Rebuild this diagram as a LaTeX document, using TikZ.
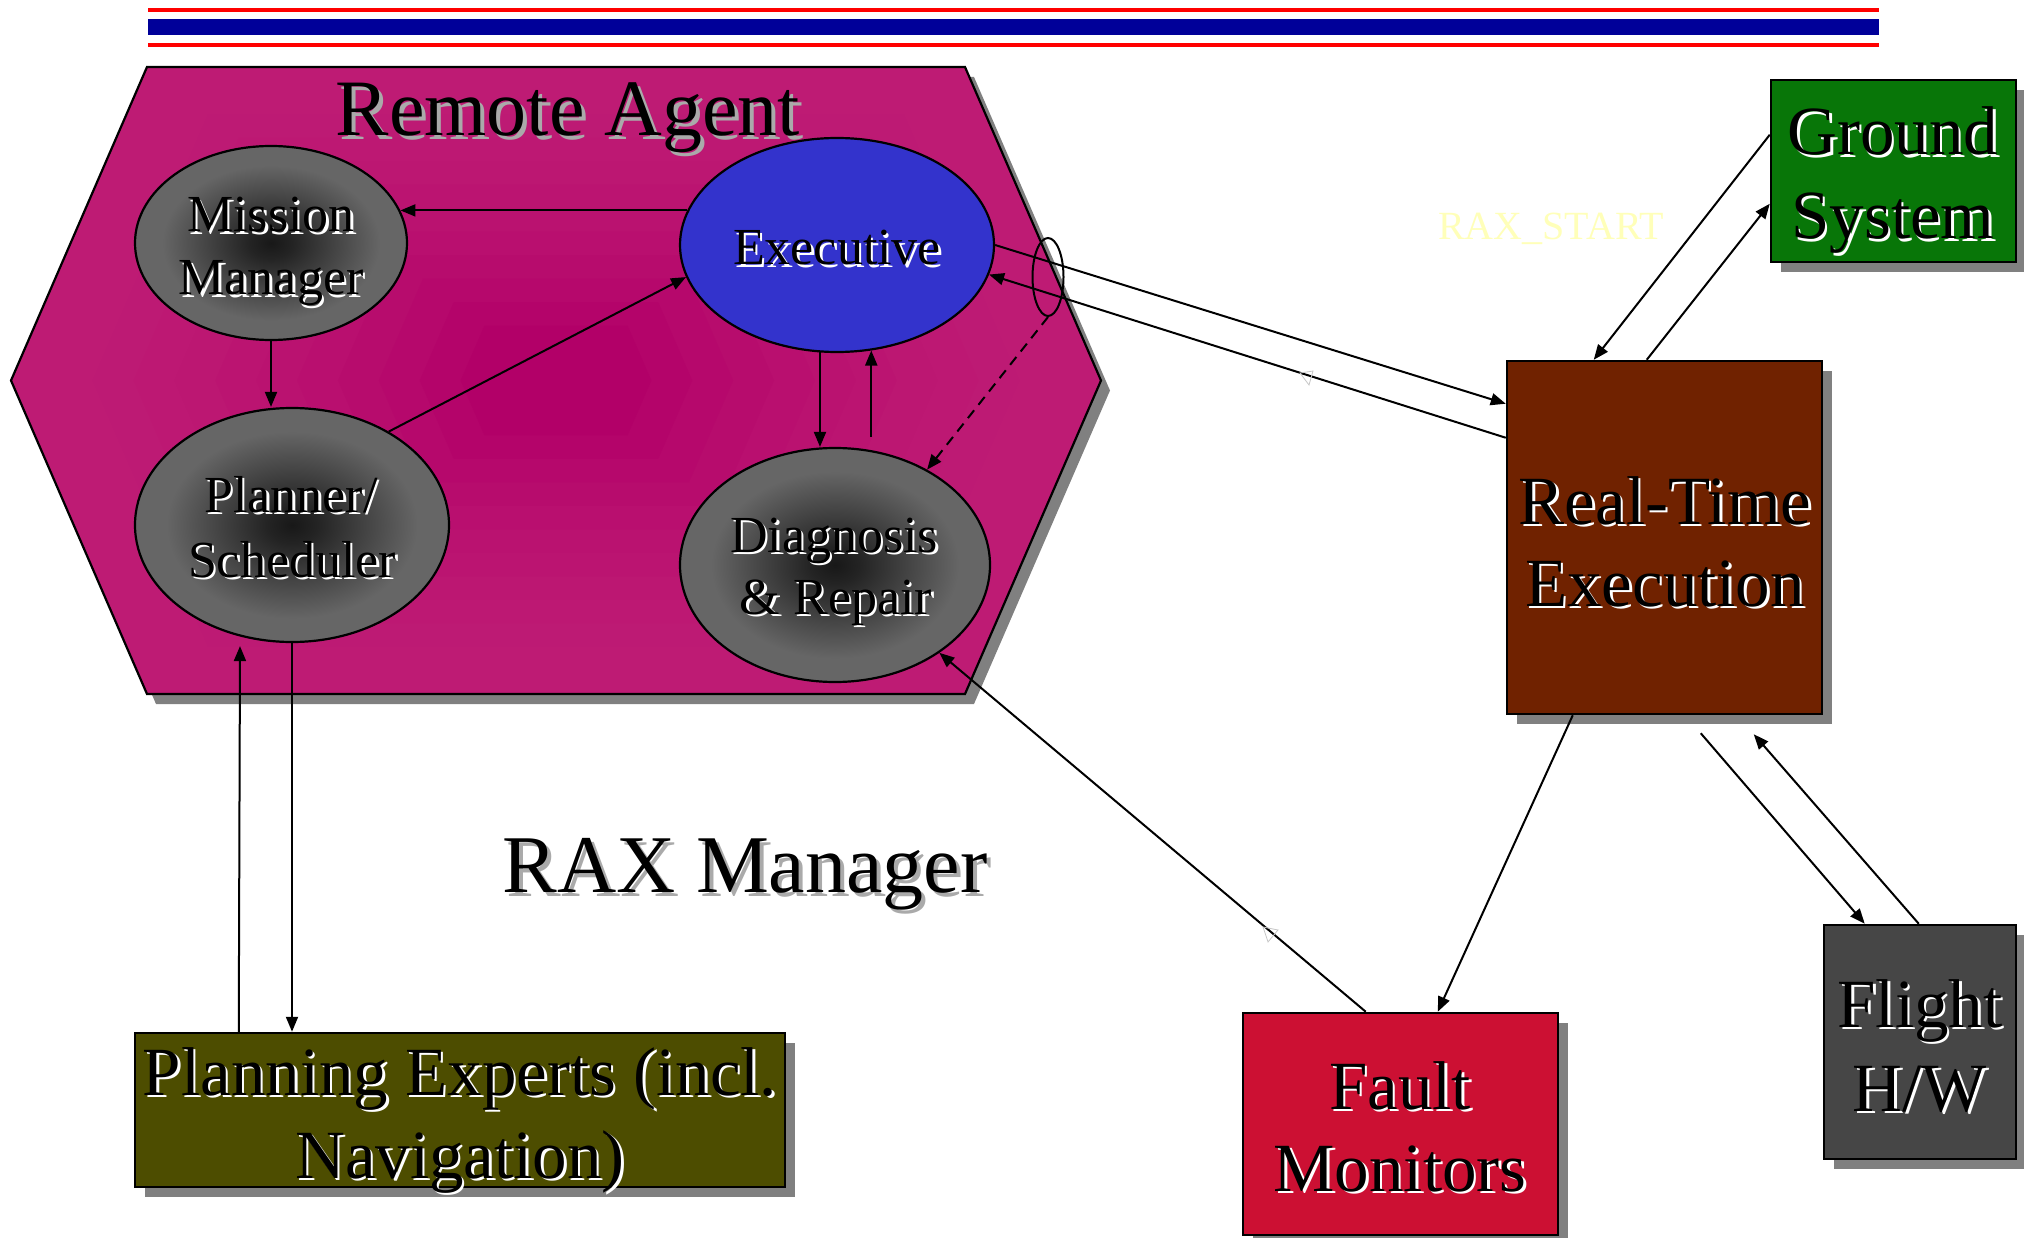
\documentclass[tikz,border=0pt]{standalone}
\usepackage{fontspec}
\setmainfont{Liberation Serif}
\usetikzlibrary{arrows.meta,shapes.geometric,calc,shadows}
\definecolor{hexout}{RGB}{190,27,116}
\definecolor{hexin}{RGB}{178,0,104}
\definecolor{shadowgray}{RGB}{128,128,128}
\definecolor{ballin}{RGB}{24,24,24}
\definecolor{ballout}{RGB}{102,102,102}
\definecolor{execblue}{RGB}{51,51,204}
\definecolor{groundgreen}{RGB}{8,118,8}
\definecolor{rtbrown}{RGB}{112,34,0}
\definecolor{faultred}{RGB}{204,16,51}
\definecolor{flightgray}{RGB}{70,70,70}
\definecolor{planolive}{RGB}{77,77,0}
\definecolor{linered}{RGB}{255,0,0}
\definecolor{lineblue}{RGB}{0,0,153}
\definecolor{raxyellow}{RGB}{255,255,185}
\definecolor{txtshadow}{RGB}{170,170,170}
\pgfdeclareradialshading{grayball}{\pgfpoint{0bp}{0bp}}{color(0bp)=(ballin); color(4bp)=(ballin!85!ballout); color(20bp)=(ballout); color(50bp)=(ballout)}

\newcommand\EmbText[4]{%
  \node[anchor=base, text=white, font=#3, inner sep=0pt] at ($(#2)+(2.5,2.5)$) {#4};
  \node[anchor=base, text=black, font=#3, inner sep=0pt] (#1) at (#2) {#4};}
\newcommand\ShText[4]{%
  \node[anchor=base, text=txtshadow, font=#3, inner sep=0pt] at ($(#2)+(4,4)$) {#4};
  \node[anchor=base, text=black, font=#3, inner sep=0pt] (#1) at (#2) {#4};}

\begin{document}
\begin{tikzpicture}[x=1pt,y=-1pt,
  ball/.style={ellipse, draw=black, line width=2.2pt, inner sep=0pt, shade, shading=grayball},
  execball/.style={ellipse, draw=black, line width=2.2pt, inner sep=0pt, fill=execblue},
  box/.style={rectangle, draw=black, line width=2.5pt, inner sep=0pt,
     drop shadow={shadow xshift=10pt, shadow yshift=-10pt, fill=shadowgray, opacity=1}},
  conn/.style={line width=2pt, -{Triangle[length=15pt,width=12pt]}},
]
\useasboundingbox (0,0) rectangle (2024,1238);

% top rules
\draw[linered, line width=4pt] (148,10) -- (1879,10);
\draw[lineblue, line width=16pt] (148,27.3) -- (1879,27.3);
\draw[linered, line width=4.6pt] (148,45) -- (1879,45);

% Remote Agent hexagon
\begin{scope}[shift={(556,380.5)}]
  \fill[shadowgray, shift={(9,10)}] (-545,0) -- (-409,-313.5) -- (409,-313.5) -- (545,0) -- (409,313.5) -- (-409,313.5) -- cycle;
  \foreach \i in {0,...,11}{
    \pgfmathsetmacro\s{1-\i*0.075}
    \pgfmathtruncatemacro\p{(\i/11)^1.8*100}
    \fill[hexin!\p!hexout, scale=\s] (-545,0) -- (-409,-313.5) -- (409,-313.5) -- (545,0) -- (409,313.5) -- (-409,313.5) -- cycle;
  }
  \draw[line width=2.2pt] (-545,0) -- (-409,-313.5) -- (409,-313.5) -- (545,0) -- (409,313.5) -- (-409,313.5) -- cycle;
\end{scope}

% ellipses
\node[ball, minimum width=272pt, minimum height=194pt] (mm) at (271,243) {};
\node[execball, minimum width=314pt, minimum height=214pt] (exec) at (837,245) {};
\node[ball, minimum width=314pt, minimum height=234pt] (plan) at (292,525) {};
\node[ball, minimum width=310pt, minimum height=234pt] (diag) at (835,565) {};
\node[ellipse, draw=black, line width=2pt, inner sep=0pt, minimum width=31pt, minimum height=78pt] (sel) at (1048,277) {};

% boxes
\node[box, fill=groundgreen, minimum width=245pt, minimum height=182pt] (gs) at (1893.5,171) {};
\node[box, fill=rtbrown, minimum width=315pt, minimum height=353pt] (rt) at (1664.5,537.5) {};
\node[box, fill=faultred, minimum width=315pt, minimum height=222pt] (fm) at (1400.5,1124) {};
\node[box, fill=flightgray, minimum width=192pt, minimum height=234pt] (fh) at (1920,1042) {};
\node[box, fill=planolive, minimum width=650pt, minimum height=154pt] (pe) at (460,1110) {};

% texts
\ShText{ratitle}{568,136}{\fontsize{80}{96}\selectfont}{Remote Agent}
\ShText{raxm}{745,892}{\fontsize{82}{98}\selectfont}{RAX Manager}
\EmbText{mmta}{271,232}{\fontsize{52}{62}\selectfont}{Mission}
\EmbText{mmtb}{271,295}{\fontsize{52}{62}\selectfont}{Manager}
\EmbText{ext}{837,265}{\fontsize{52}{62}\selectfont}{Executive}
\EmbText{psta}{291,512}{\fontsize{52}{62}\selectfont}{Planner/}
\EmbText{pstb}{292,577}{\fontsize{52}{62}\selectfont}{Scheduler}
\EmbText{drta}{834,552}{\fontsize{52}{62}\selectfont}{Diagnosis}
\EmbText{drtb}{836,614}{\fontsize{52}{62}\selectfont}{\& Repair}
\EmbText{gsta}{1893,155}{\fontsize{69}{83}\selectfont}{Ground}
\EmbText{gstb}{1893,239}{\fontsize{69}{83}\selectfont}{System}
\EmbText{rtta}{1665,524}{\fontsize{69}{83}\selectfont}{Real-Time}
\EmbText{rttb}{1665,606}{\fontsize{69}{83}\selectfont}{Execution}
\EmbText{fmta}{1400,1109}{\fontsize{69}{83}\selectfont}{Fault}
\EmbText{fmtb}{1400,1191}{\fontsize{69}{83}\selectfont}{Monitors}
\EmbText{fhta}{1920,1027}{\fontsize{69}{83}\selectfont}{Flight}
\EmbText{fhtb}{1920,1111}{\fontsize{69}{83}\selectfont}{H/W}
\EmbText{peta}{460,1095}{\fontsize{69}{83}\selectfont}{Planning Experts (incl.}
\EmbText{petb}{460,1178}{\fontsize{69}{83}\selectfont}{Navigation)}
\node[anchor=base, text=raxyellow, font=\fontsize{40}{48}\selectfont, inner sep=0pt] (raxstart) at (1551,240) {RAX\_START};

% connectors inside the agent
\draw[conn] (exec.167) -- (mm.14 |- exec.167);
\draw[conn] (mm.south) -- (mm.south |- plan.north);
\draw[conn] (plan.44) -- (exec.192);
\draw[conn] (exec.261) -- (exec.261 |- diag.north);
\draw[conn] ($(exec.288 |- diag.north)+(0,-10)$) -- (exec.288);
\draw[conn, dash pattern=on 10pt off 7pt] (sel.south) -- (diag.46);

% executive <-> real-time execution
\draw[conn] (exec.east) -- ($(rt.north west)+(0,44)$);
\draw[conn] ($(rt.north west)+(0,78)$) -- (exec.349);

% ground system <-> real-time execution
\draw[conn] ($(gs.north west)+(0,56)$) -- ($(rt.north west)+(88,0)$);
\draw[conn] ($(rt.north west)+(141,0)$) -- ($(gs.north west)+(0,125)$);

% real-time execution -> fault monitors, flight h/w
\draw[conn] ($(rt.south west)+(67,0)$) -- ($(fm.north west)+(196,0)$);
\coordinate (fhout) at ($(rt.south west)+(195,18)$);
\coordinate (fhin) at ($(rt.south west)+(248,19)$);
\draw[conn] (fhout) -- ($(fh.north west)+(42,0)$);
\draw[conn] ($(fh.north west)+(96,0)$) -- (fhin);

% fault monitors -> diagnosis
\draw[conn] ($(fm.north west)+(124,0)$) -- (diag);

% planning experts <-> planner
\draw[conn] ($(pe.north west)+(105,0)$) -- ($(plan.south)+(-52,3)$);
\draw[conn] (plan.south) -- (plan.south |- pe.north);

% faint stray arrowheads
\draw[gray!45, line width=0.8pt] (1300,373) -- (1313,371) -- (1309,385) -- cycle;
\draw[gray!45, line width=0.8pt] (1263,927) -- (1278,930) -- (1268,942) -- cycle;
\end{tikzpicture}
\end{document}
